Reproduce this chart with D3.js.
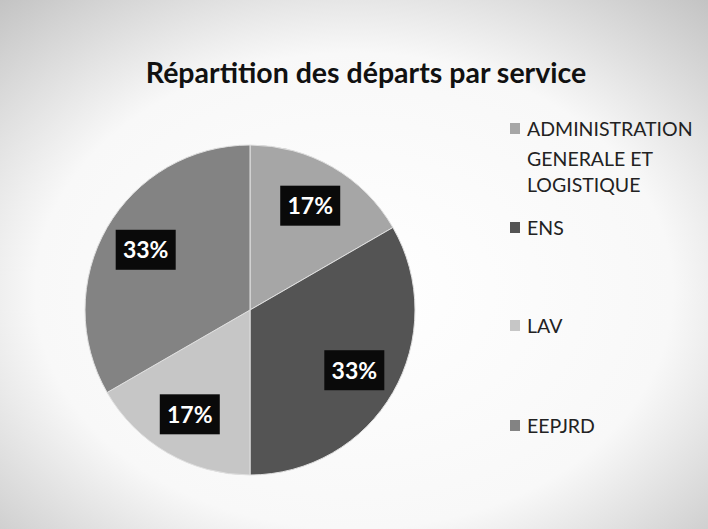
<!DOCTYPE html>
<html><head><meta charset="utf-8">
<script src="https://cdn.jsdelivr.net/npm/d3@7/dist/d3.min.js"></script>
<style>body{margin:0;background:#fff}svg{display:block}</style>
</head><body>
<script>
const title = "Répartition des départs par service";
const categories = ["ADMINISTRATION GENERALE ET LOGISTIQUE", "ENS", "LAV", "EEPJRD"];
const legendLines = [["ADMINISTRATION", "GENERALE ET", "LOGISTIQUE"], ["ENS"], ["LAV"], ["EEPJRD"]];
const values = [1, 2, 1, 2];
const colors = ["#a6a6a6", "#545454", "#c6c6c6", "#838383"];

const W = 708, H = 529;
const svg = d3.select("body").append("svg").attr("width", W).attr("height", H);
const defs = svg.append("defs");
const rg = defs.append("radialGradient").attr("id", "bg").attr("cx", "50%").attr("cy", "55%").attr("r", "75%");
rg.append("stop").attr("offset", "0%").attr("stop-color", "#ffffff");
rg.append("stop").attr("offset", "60%").attr("stop-color", "#f8f8f8");
rg.append("stop").attr("offset", "100%").attr("stop-color", "#c2c2c2");
svg.append("rect").attr("width", W).attr("height", H).attr("fill", "url(#bg)");

const font = "Lato, 'Open Sans', sans-serif";

svg.append("text").attr("x", 366).attr("y", 83).attr("text-anchor", "middle")
  .attr("font-family", font).attr("font-weight", "bold").attr("font-size", 28.5)
  .attr("fill", "#111").text(title);

const cx = 250, cy = 310, R = 165;
const total = d3.sum(values);
const pie = d3.pie().sort(null).value(d => d)(values);
const arc = d3.arc().innerRadius(0).outerRadius(R);
const labelArc = d3.arc().innerRadius(R * 0.73).outerRadius(R * 0.73);
const g = svg.append("g").attr("transform", `translate(${cx},${cy})`);
g.selectAll("path").data(pie).join("path").attr("d", arc)
  .attr("fill", (d, i) => colors[i]).attr("stroke", "#e0e0e0").attr("stroke-width", 1);

const lab = g.selectAll("g.lab").data(pie).join("g").attr("class", "lab")
  .attr("transform", d => `translate(${labelArc.centroid(d)})`);
lab.append("rect").attr("x", -30).attr("y", -20).attr("width", 60).attr("height", 40).attr("fill", "#0a0a0a");
lab.append("text").attr("text-anchor", "middle").attr("dy", "0.36em")
  .attr("font-family", font).attr("font-weight", "bold").attr("font-size", 23).attr("fill", "#fff")
  .text(d => Math.round(d.data / total * 100) + "%");

const legY = [136, 235, 333, 433];
const leg = svg.append("g");
legendLines.forEach((lines, i) => {
  leg.append("rect").attr("x", 510).attr("y", legY[i] - 13).attr("width", 10).attr("height", 11).attr("fill", colors[i]);
  lines.forEach((t, j) => {
    leg.append("text").attr("x", 527).attr("y", legY[i] + [0, 30, 56][j])
      .attr("font-family", font).attr("font-size", 19.5).attr("fill", "#222").text(t);
  });
});
</script>
</body></html>
